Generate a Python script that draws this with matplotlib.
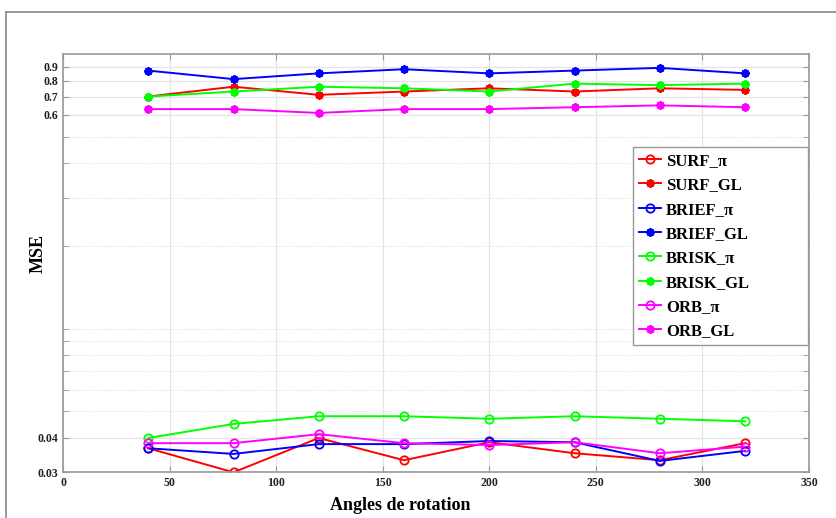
import matplotlib
matplotlib.use("Agg")
import matplotlib.pyplot as plt
from matplotlib.lines import Line2D
from matplotlib.ticker import FixedLocator, NullFormatter

angles = [40, 80, 120, 160, 200, 240, 280, 320]

surf_pi = [0.0367, 0.030, 0.040, 0.0332, 0.0386, 0.0352, 0.0332, 0.0383]
surf_gl = [0.70, 0.76, 0.71, 0.73, 0.75, 0.73, 0.75, 0.74]
brief_pi = [0.0367, 0.035, 0.038, 0.038, 0.039, 0.0386, 0.033, 0.0359]
brief_gl = [0.87, 0.81, 0.85, 0.88, 0.85, 0.87, 0.89, 0.85]
brisk_pi = [0.040, 0.045, 0.048, 0.048, 0.047, 0.048, 0.047, 0.046]
brisk_gl = [0.70, 0.73, 0.76, 0.75, 0.73, 0.78, 0.77, 0.78]
orb_pi = [0.0383, 0.0383, 0.0413, 0.0383, 0.0377, 0.0386, 0.0352, 0.0372]
orb_gl = [0.63, 0.63, 0.61, 0.63, 0.63, 0.64, 0.65, 0.64]

y_major = [0.03, 0.04, 0.6, 0.7, 0.8, 0.9]
y_minor = [0.05, 0.06, 0.07, 0.08, 0.09, 0.1, 0.2, 0.3, 0.4, 0.5]
x_ticks = [0, 50, 100, 150, 200, 250, 300, 350]

serif = ["Liberation Serif", "DejaVu Serif"]

fig = plt.figure(figsize=(8.37, 5.18), dpi=100)
ax = fig.add_axes([0.0753, 0.0882, 0.8912, 0.8076])

series = [
    (surf_pi, "SURF_\u03c0", "#ff0000", "o"),
    (surf_gl, "SURF_GL", "#ff0000", "*"),
    (brief_pi, "BRIEF_\u03c0", "#0000ff", "o"),
    (brief_gl, "BRIEF_GL", "#0000ff", "*"),
    (brisk_pi, "BRISK_\u03c0", "#00ff00", "o"),
    (brisk_gl, "BRISK_GL", "#00ff00", "*"),
    (orb_pi, "ORB_\u03c0", "#ff00ff", "o"),
    (orb_gl, "ORB_GL", "#ff00ff", "*"),
]
for vals, name, col, mk in series:
    if mk == "o":
        ax.plot(angles, vals, color=col, lw=1.4, marker="o", ms=6,
                mfc="none", mec=col, mew=1.3, label=name)
    else:
        ax.plot(angles, vals, color=col, lw=1.4, marker=(8, 2, 0), ms=6,
                mfc=col, mec=col, mew=1.5, label=name)

ax.set_yscale("log")
ax.set_ylim(0.03, 1.0)
ax.set_xlim(0, 350)
ax.yaxis.set_major_locator(FixedLocator(y_major))
ax.yaxis.set_minor_locator(FixedLocator(y_minor))
ax.yaxis.set_minor_formatter(NullFormatter())
ax.set_yticklabels([str(v) for v in y_major])
ax.set_xticks(x_ticks)
ax.set_xticklabels([str(v) for v in x_ticks])

ax.grid(True, which="major", color="#e4e4e4", lw=0.9)
ax.grid(True, which="minor", axis="y", color="#dcdcdc", lw=0.8, ls=":")
ax.set_axisbelow(True)

for s in ax.spines.values():
    s.set_color("#999999")
    s.set_linewidth(1.2)
ax.tick_params(which="both", direction="in", top=True, right=True,
               color="#999999", length=4)
for lab in ax.get_xticklabels() + ax.get_yticklabels():
    lab.set_family(serif)
    lab.set_fontweight("bold")
    lab.set_fontsize(8.5)
    lab.set_color("#222222")

fig.text(0.045, 0.51, "MSE", rotation=90, ha="center", va="center",
         family=serif, fontweight="bold", fontsize=13)
fig.text(0.478, 0.025, "Angles de rotation", ha="center", va="center",
         family=serif, fontweight="bold", fontsize=13)

# legend box spans x 633..808 px, top at 147 px
leg = ax.legend(loc="upper left", bbox_to_anchor=(0.756, 0.5, 0.209, 0.216),
                bbox_transform=fig.transFigure, borderaxespad=0, mode="expand",
                fancybox=False, framealpha=1, edgecolor="#999999",
                handlelength=1.35, handletextpad=0.3, labelspacing=0.5,
                borderpad=0.35,
                prop={"family": serif, "weight": "bold", "size": 12})
leg.get_frame().set_linewidth(1.0)

# outer frame of the figure window
fig.add_artist(Line2D([0.007, 1.0], [0.977, 0.977], transform=fig.transFigure,
                      color="#888888", lw=1.2))
fig.add_artist(Line2D([0.007, 0.007], [0.0, 0.977], transform=fig.transFigure,
                      color="#888888", lw=1.2))

fig.savefig("out.png", dpi=100)
